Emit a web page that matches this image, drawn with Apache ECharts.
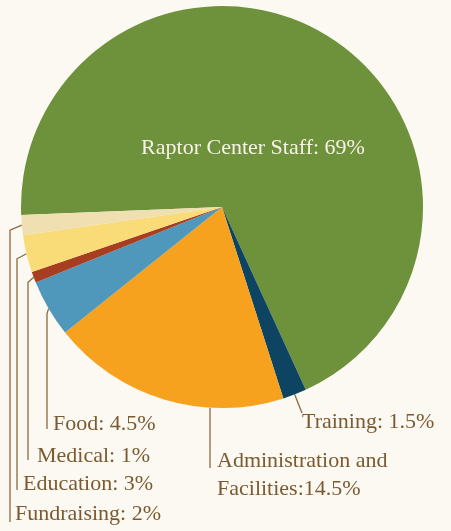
<!DOCTYPE html>
<html>
<head>
<meta charset="utf-8">
<script src="https://cdn.jsdelivr.net/npm/echarts@6/dist/echarts.min.js"></script>
<style>
  html, body { margin: 0; padding: 0; background: #fcf8f2; }
  #main { width: 451px; height: 531px; }
</style>
</head>
<body>
<div id="main"></div>
<script>
  // slice names and label texts
  var names = ['Raptor Center Staff', 'Training', 'Administration and Facilities', 'Food', 'Medical', 'Education', 'Fundraising']
  var labelTexts = ['Raptor Center Staff: 69%', 'Training: 1.5%', 'Administration and\nFacilities:14.5%', 'Food: 4.5%', 'Medical: 1%', 'Education: 3%', 'Fundraising: 2%']
  // slice sizes as drawn in the picture (percent)
  var values = [68.8, 1.9, 19.2, 4.6, 0.9, 3.0, 1.6]
  var colors = ['#6e913c', '#0d4462', '#f6a21e', '#4f98bb', '#a73e22', '#f9dc78', '#f0dfb0']

  // label placement (text anchor x/y, vertical leader x, leader end y)
  var textX = [253, 302, 217, 53, 37, 23, 15]
  var textY = [148, 422, 475, 424, 456, 484, 514]
  var leadX = [null, 302, 210, 47, 28, 17, 10]
  var leadEndY = [null, 413, 468, 429, 460, 490, 522]

  var cx = 222, cy = 207, r = 201, startAngle = 182.3
  var total = 0
  for (var i = 0; i < values.length; i++) total += values[i]

  // point on the rim at the middle of slice i
  function midPoint (i) {
    var cum = 0
    for (var j = 0; j < i; j++) cum += values[j]
    var a = (startAngle - (cum + values[i] / 2) / total * 360) * Math.PI / 180
    return [cx + r * Math.cos(a), cy - r * Math.sin(a)]
  }

  var data = []
  for (var k = 0; k < names.length; k++) {
    var item = { name: names[k], value: values[k], itemStyle: { color: colors[k] } }
    if (k === 0) {
      item.label = { color: '#f7f3e6' }
      item.labelLine = { show: false }
    }
    data.push(item)
  }

  var chart = echarts.init(document.getElementById('main'))
  chart.setOption({
    backgroundColor: '#fcf8f2',
    animation: false,
    series: [{
      type: 'pie',
      center: [cx, cy],
      radius: r,
      startAngle: startAngle,
      clockwise: true,
      avoidLabelOverlap: false,
      data: data,
      label: {
        show: true,
        fontFamily: 'Liberation Serif',
        fontSize: 22,
        lineHeight: 28,
        color: '#7b5a30',
        formatter: function (p) { return labelTexts[p.dataIndex] }
      },
      labelLine: {
        show: true,
        lineStyle: { color: '#8b6a3c', width: 1.3 }
      },
      labelLayout: function (p) {
        var i = p.dataIndex
        if (i === 0) {
          return { x: textX[0], y: textY[0], align: 'center', verticalAlign: 'middle' }
        }
        var s = midPoint(i)
        var pts
        if (i === 1) {
          pts = [s, [leadX[i], leadEndY[i]], [leadX[i], leadEndY[i]]]
        } else if (i === 2) {
          var ey = cy + Math.sqrt(r * r - (leadX[i] - cx) * (leadX[i] - cx))
          pts = [[leadX[i], ey], [leadX[i], ey], [leadX[i], leadEndY[i]]]
        } else {
          pts = [s, [leadX[i], s[1] + 5], [leadX[i], leadEndY[i]]]
        }
        return { x: textX[i], y: textY[i], align: 'left', verticalAlign: 'middle', labelLinePoints: pts }
      }
    }]
  })
</script>
</body>
</html>
